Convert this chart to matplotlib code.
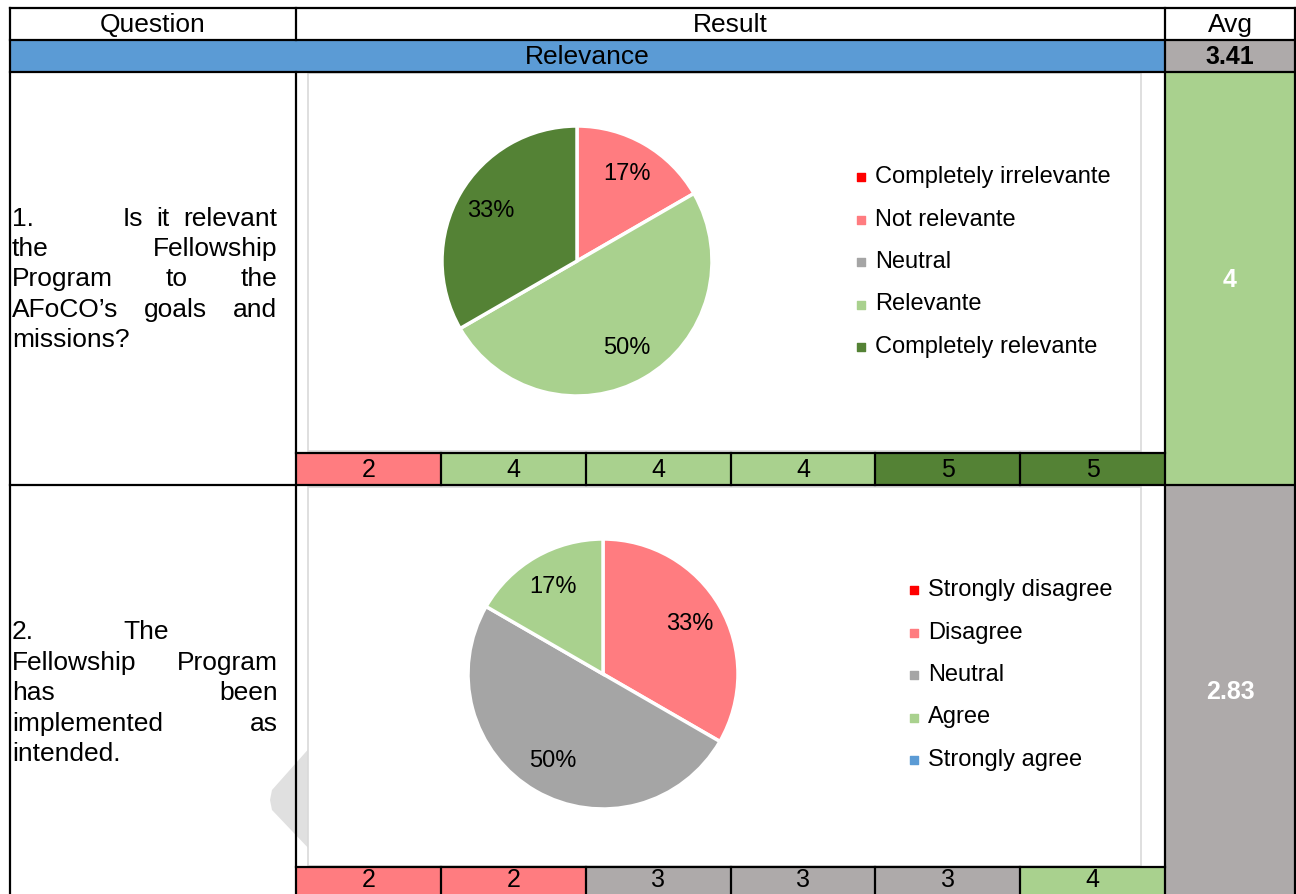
import matplotlib
matplotlib.use("Agg")
import matplotlib.pyplot as plt
from matplotlib.patches import Rectangle, Polygon

plt.rcParams['font.family'] = ['Liberation Sans', 'DejaVu Sans']

# survey data
section = "Relevance"
section_avg = "3.41"

q1_labels = ['Completely irrelevante', 'Not relevante', 'Neutral', 'Relevante', 'Completely relevante']
q1_counts = [0, 1, 0, 3, 2]
q1_scores = [2, 4, 4, 4, 5, 5]
q1_avg = "4"

q2_labels = ['Strongly disagree', 'Disagree', 'Neutral', 'Agree', 'Strongly agree']
q2_counts = [0, 2, 3, 1, 0]
q2_scores = [2, 2, 3, 3, 3, 4]
q2_avg = "2.83"

# colours
RED = '#ff0000'
PINK = '#ff7c80'
PIE_GRAY = '#a5a5a5'
LGREEN = '#a9d18e'
DGREEN = '#548235'
BLUE = '#5b9bd5'
CELL_GRAY = '#aeaaaa'

q1_colors = [RED, PINK, PIE_GRAY, LGREEN, DGREEN]
q2_colors = [RED, PINK, PIE_GRAY, LGREEN, BLUE]
score_colors = {2: PINK, 3: CELL_GRAY, 4: LGREEN, 5: DGREEN}

W, H = 1296, 894
fig = plt.figure(figsize=(W / 100, H / 100), dpi=100)
ax = fig.add_axes([0, 0, 1, 1])
ax.set_xlim(0, W)
ax.set_ylim(H, 0)
ax.axis('off')

FS = 19      # table text
FS_CH = 17   # chart labels and legend
FS_NUM = 18  # scores and averages
LW = 1.6
xl, xq, xr, xa = 10, 296, 1165, 1295


def rect(x0, y0, x1, y1, fc, ec='none', lw=0, z=1):
    ax.add_patch(Rectangle((x0, y0), x1 - x0, y1 - y0, facecolor=fc,
                           edgecolor=ec, linewidth=lw, zorder=z))


def hline(y, x0, x1):
    ax.plot([x0, x1], [y, y], color='black', lw=LW, zorder=10, solid_capstyle='projecting')


def vline(x, y0, y1):
    ax.plot([x, x], [y0, y1], color='black', lw=LW, zorder=10, solid_capstyle='projecting')


# header row
ax.text((xl + xq) / 2, 25, "Question", ha='center', va='center', fontsize=FS, zorder=11)
ax.text((xq + xr) / 2, 25, "Result", ha='center', va='center', fontsize=FS, zorder=11)
ax.text((xr + xa) / 2, 25, "Avg", ha='center', va='center', fontsize=FS, zorder=11)

# section row
rect(xl, 40, xr, 72, BLUE)
rect(xr, 40, xa, 72, CELL_GRAY)
ax.text((xl + xr) / 2, 57, section, ha='center', va='center', fontsize=FS, zorder=11)
ax.text((xr + xa) / 2, 57, section_avg, ha='center', va='center', fontsize=FS_NUM,
        fontweight='bold', zorder=11)

# avg cells
rect(xr, 72, xa, 485, LGREEN)
rect(xr, 485, xa, H + 5, CELL_GRAY)
ax.text((xr + xa) / 2, 280, q1_avg, ha='center', va='center', fontsize=FS_NUM,
        fontweight='bold', color='white', zorder=11)
ax.text((xr + xa) / 2, 692, q2_avg, ha='center', va='center', fontsize=FS_NUM,
        fontweight='bold', color='white', zorder=11)

# faint watermark shape behind the second chart
ax.add_patch(Polygon([(312, 745), (272, 790), (270, 800), (272, 810), (312, 852)],
                     closed=True, facecolor='#e0e0e0', edgecolor='none', zorder=2))

# chart areas
rect(308, 73, 1141, 451, 'white', '#d9d9d9', 1.2, z=3)
rect(308, 487, 1141, 866, 'white', '#d9d9d9', 1.2, z=3)


# score strips under each chart
def score_strip(scores, y0, y1, ty):
    n = len(scores)
    step = (xr - xq) / n
    for i, s in enumerate(scores):
        x0 = xq + i * step
        rect(x0, y0, x0 + step, y1, score_colors[s], z=4)
        ax.text(x0 + step / 2, ty, str(s), ha='center', va='center',
                fontsize=FS_NUM, zorder=11)
        if i > 0:
            vline(x0, y0, y1)
    hline(y0, xq, xr)


score_strip(q1_scores, 453, 485, 470)
score_strip(q2_scores, 867, 900, 880)


def pie(counts, colors, cx, cy, r):
    pax = fig.add_axes([(cx - r) / W, 1 - (cy + r) / H, 2 * r / W, 2 * r / H], zorder=5)
    vals = [c for c in counts if c > 0]
    cols = [col for c, col in zip(counts, colors) if c > 0]
    _, _, autotexts = pax.pie(vals, colors=cols, startangle=90, counterclock=False,
                              autopct='%1.0f%%', pctdistance=0.74,
                              wedgeprops=dict(edgecolor='white', linewidth=2.5))
    for t in autotexts:
        t.set_fontsize(FS_CH)
    pax.set_xlim(-1.0, 1.0)
    pax.set_ylim(-1.0, 1.0)


def legend(labels, colors, x, y0, dy):
    for i, (lab, col) in enumerate(zip(labels, colors)):
        y = y0 + i * dy
        ax.scatter([x], [y], marker='s', s=28, color=col, zorder=6)
        ax.text(x + 14, y, lab, ha='left', va='center', fontsize=FS_CH, zorder=6)


pie(q1_counts, q1_colors, 577, 261, 135)
legend(q1_labels, q1_colors, 861, 177, 42.5)
pie(q2_counts, q2_colors, 603, 674, 135)
legend(q2_labels, q2_colors, 914, 590, 42.5)

# question text, justified inside the first column
renderer = fig.canvas.get_renderer()


def put_line(words, x0, x1, y, justify=True):
    texts = [ax.text(0, y, w, ha='left', va='center', fontsize=FS, zorder=11) for w in words]
    widths = [t.get_window_extent(renderer).width for t in texts]
    if justify and len(words) > 1:
        gap = (x1 - x0 - sum(widths)) / (len(words) - 1)
    else:
        gap = 0.28 * FS * 100 / 72
    x = x0
    for t, w in zip(texts, widths):
        t.set_x(x)
        x += w + gap


tx0, ttab, tx1 = 12, 123, 277
q1_lines = [["the", "Fellowship"], ["Program", "to", "the"], ["AFoCO’s", "goals", "and"]]
ax.text(tx0, 219, "1.", ha='left', va='center', fontsize=FS, zorder=11)
put_line(["Is", "it", "relevant"], ttab, tx1, 219)
for k, words in enumerate(q1_lines):
    put_line(words, tx0, tx1, 249 + k * 30.3)
put_line(["missions?"], tx0, tx1, 340, justify=False)

q2_lines = [["Fellowship", "Program"], ["has", "been"], ["implemented", "as"]]
ax.text(tx0, 632, "2.", ha='left', va='center', fontsize=FS, zorder=11)
ax.text(ttab, 632, "The", ha='left', va='center', fontsize=FS, zorder=11)
for k, words in enumerate(q2_lines):
    put_line(words, tx0, tx1 + 1, 663 + k * 30.3)
put_line(["intended."], tx0, tx1, 754, justify=False)

# table grid
for y in (8, 40, 72, 485):
    hline(y, xl, xa)
for x in (xl, xr, xa):
    vline(x, 8, H + 5)
vline(xq, 8, 40)
vline(xq, 72, H + 5)

fig.savefig("out.png", dpi=100)
